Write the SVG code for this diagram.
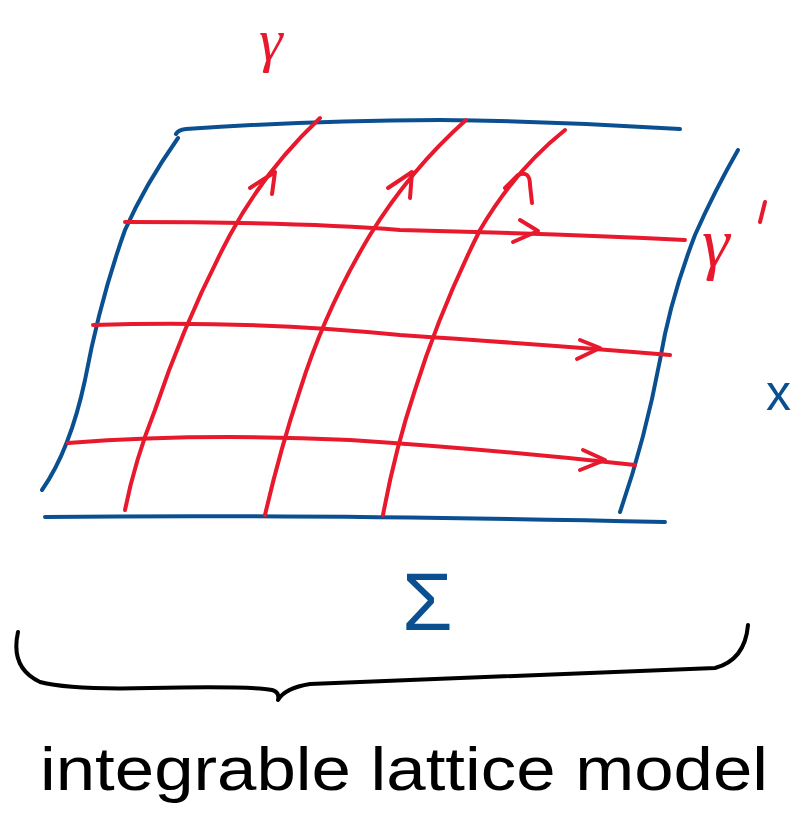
<svg xmlns="http://www.w3.org/2000/svg" width="804" height="821" viewBox="0 0 804 821">
<style>
.b{fill:none;stroke:#0a5090;stroke-width:4;stroke-linecap:round;stroke-linejoin:round}
.r{fill:none;stroke:#e8192c;stroke-width:4;stroke-linecap:round;stroke-linejoin:round}
.k{fill:none;stroke:#000;stroke-width:4;stroke-linecap:round;stroke-linejoin:round}
.tr{fill:#e8192c;font-family:"Liberation Serif",serif;font-style:italic}
.tb{fill:#0a5090;font-family:"Liberation Sans",sans-serif}
.tk{fill:#000;font-family:"Liberation Sans",sans-serif}
</style>
<rect width="804" height="821" fill="#fff"/>
<g id="surface">
<path class="b" d="M176,134 Q178,130 186,129 Q300,121 440,120 Q560,121 680,129"/>
<path class="b" d="M178,138 Q145,185 125,230 Q100,300 85,380 Q70,450 42,490"/>
<path class="b" d="M738,150 Q715,190 695,235 Q670,300 660,360 Q645,440 620,512"/>
<path class="b" d="M45,517 Q300,514 665,522"/>
</g>
<g id="connectors">
<path class="r" d="M125,222 Q300,222 400,230 Q560,234 685,240"/>
<path class="r" d="M520,220 L538,231 L513,242"/>
<path class="r" d="M93,325 Q250,320 400,335 Q550,345 670,355"/>
<path class="r" d="M580,340 L600,348 L577,359"/>
<path class="r" d="M68,443 Q200,433 350,440 Q500,450 635,465"/>
<path class="r" d="M583,450 L605,460 L580,470"/>
<path class="r" d="M125,510 Q135,460 155,410 Q185,320 230,235 Q265,170 320,118"/>
<path class="r" d="M250,188 L275,172 L272,194"/>
<path class="r" d="M265,515 Q280,450 300,390 Q325,310 370,235 Q410,170 466,120"/>
<path class="r" d="M388,188 L412,172 L410,198"/>
<path class="r" d="M383,515 Q395,450 415,390 Q440,310 480,230 Q515,170 565,130"/>
<path class="r" d="M505,188 L518,175 Q530,170 530,185 L532,203"/>
</g>
<g id="labels">
<text class="tr" x="259" y="60" font-size="60">γ</text>
<text class="tr" x="702" y="266" font-size="70">γ</text>
<path class="r" d="M765,202 L760,222"/>
<text class="tb" x="766" y="410" font-size="50">x</text>
<text class="tb" x="402" y="630" font-size="82">Σ</text>
</g>
<g id="brace">
<path class="k" d="M18,632 Q10,668 40,682 Q70,690 150,688 Q250,686 272,690 Q280,692 278,700 Q285,688 310,684 Q500,676 715,668 Q745,660 748,625"/>
</g>
<text class="tk" x="40" y="790" font-size="62" textLength="728" lengthAdjust="spacingAndGlyphs">integrable lattice model</text>
</svg>
